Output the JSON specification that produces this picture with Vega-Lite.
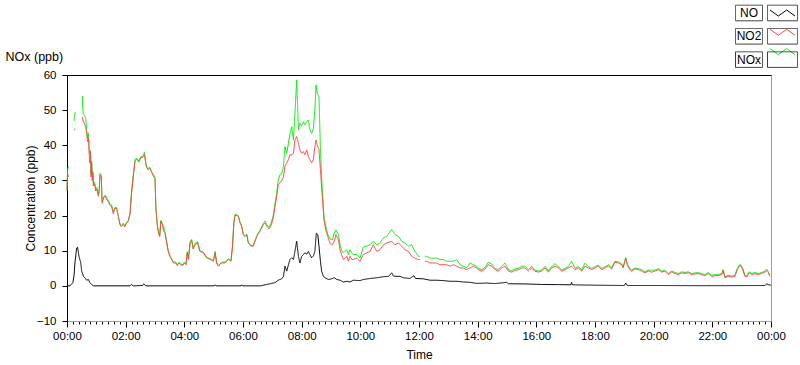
{
  "$schema": "https://vega.github.io/schema/vega-lite/v6.json",
  "width": 704,
  "height": 246,
  "autosize": {"type": "none"},
  "padding": {"left": 67, "top": 75, "right": 29, "bottom": 44},
  "background": "#ffffff",
  "config": {
    "font": "Liberation Sans",
    "view": {"stroke": "#a0a0a0", "strokeWidth": 1},
    "axis": {"grid": false, "labelFont": "Liberation Sans", "labelFontSize": 11.5, "labelColor": "#000000", "titleFont": "Liberation Sans", "titleFontSize": 12, "titleFontWeight": "normal", "titleColor": "#000000", "tickColor": "#000000", "domainColor": "#000000"},
    "axisY": {"labelOverlap": false, "labelBound": false},
    "legend": {"labelFont": "Liberation Sans"}
  },
  "data": {"values": [
    {"t":0,"s":"NOx","v":27.5},{"t":0.02,"s":"NOx","v":33},{"t":0.05,"s":"NOx","v":34},{"t":0.09,"s":"NOx","v":null},
    {"t":0.24,"s":"NOx","v":47},{"t":0.28,"s":"NOx","v":49.5},{"t":0.4,"s":"NOx","v":null},
    {"t":0.52,"s":"NOx","v":54},{"t":0.55,"s":"NOx","v":49},{"t":0.6,"s":"NOx","v":48.5},{"t":0.64,"s":"NOx","v":47.5},{"t":0.67,"s":"NOx","v":44.5},{"t":0.7,"s":"NOx","v":42},{"t":0.73,"s":"NOx","v":43.5},{"t":0.76,"s":"NOx","v":38.5},{"t":0.78,"s":"NOx","v":37.5},{"t":0.8,"s":"NOx","v":38.5},{"t":0.82,"s":"NOx","v":32},{"t":0.84,"s":"NOx","v":35.5},{"t":0.86,"s":"NOx","v":31},{"t":0.88,"s":"NOx","v":32.5},{"t":0.9,"s":"NOx","v":29},{"t":0.94,"s":"NOx","v":29.5},{"t":0.98,"s":"NOx","v":27.5},{"t":1.02,"s":"NOx","v":28},{"t":1.07,"s":"NOx","v":26},{"t":1.1,"s":"NOx","v":27.5},{"t":1.125,"s":"NOx","v":32},{"t":1.17,"s":"NOx","v":31.5},{"t":1.19,"s":"NOx","v":25.5},{"t":1.2,"s":"NOx","v":24},{"t":1.25,"s":"NOx","v":25.3},{"t":1.3,"s":"NOx","v":25.8},{"t":1.36,"s":"NOx","v":25},{"t":1.41,"s":"NOx","v":24.3},{"t":1.46,"s":"NOx","v":23.3},{"t":1.52,"s":"NOx","v":23},{"t":1.58,"s":"NOx","v":21},{"t":1.63,"s":"NOx","v":22.3},{"t":1.69,"s":"NOx","v":22.3},{"t":1.75,"s":"NOx","v":20},{"t":1.8,"s":"NOx","v":17.8},{"t":1.85,"s":"NOx","v":17.2},{"t":1.92,"s":"NOx","v":17.8},{"t":1.97,"s":"NOx","v":17},{"t":2.03,"s":"NOx","v":18},{"t":2.09,"s":"NOx","v":18.6},{"t":2.15,"s":"NOx","v":20.7},{"t":2.2,"s":"NOx","v":26.6},{"t":2.26,"s":"NOx","v":31.5},{"t":2.32,"s":"NOx","v":36},{"t":2.38,"s":"NOx","v":36.3},{"t":2.45,"s":"NOx","v":35.5},{"t":2.52,"s":"NOx","v":36.8},{"t":2.58,"s":"NOx","v":36.9},{"t":2.64,"s":"NOx","v":38},{"t":2.7,"s":"NOx","v":34.3},{"t":2.76,"s":"NOx","v":33.3},{"t":2.82,"s":"NOx","v":33.8},{"t":2.9,"s":"NOx","v":32.3},{"t":2.96,"s":"NOx","v":31.5},{"t":3.0,"s":"NOx","v":31},{"t":3.03,"s":"NOx","v":22.3},{"t":3.08,"s":"NOx","v":17.3},{"t":3.12,"s":"NOx","v":15.3},{"t":3.16,"s":"NOx","v":14.3},{"t":3.2,"s":"NOx","v":18.6},{"t":3.25,"s":"NOx","v":17.8},{"t":3.3,"s":"NOx","v":16.8},{"t":3.34,"s":"NOx","v":15.3},{"t":3.4,"s":"NOx","v":12.5},{"t":3.45,"s":"NOx","v":10},{"t":3.51,"s":"NOx","v":8.6},{"t":3.57,"s":"NOx","v":7.7},{"t":3.63,"s":"NOx","v":6.7},{"t":3.7,"s":"NOx","v":6.8},{"t":3.76,"s":"NOx","v":6},{"t":3.82,"s":"NOx","v":6.7},{"t":3.88,"s":"NOx","v":6.2},{"t":3.95,"s":"NOx","v":6},{"t":4.0,"s":"NOx","v":6.7},{"t":4.06,"s":"NOx","v":6.3},{"t":4.1,"s":"NOx","v":9.7},{"t":4.14,"s":"NOx","v":7.8},{"t":4.2,"s":"NOx","v":12.5},{"t":4.25,"s":"NOx","v":13.2},{"t":4.3,"s":"NOx","v":10.7},{"t":4.36,"s":"NOx","v":12},{"t":4.45,"s":"NOx","v":12.6},{"t":4.53,"s":"NOx","v":10},{"t":4.65,"s":"NOx","v":9.6},{"t":4.76,"s":"NOx","v":8.2},{"t":4.88,"s":"NOx","v":7.7},{"t":4.99,"s":"NOx","v":7.2},{"t":5.05,"s":"NOx","v":9.8},{"t":5.1,"s":"NOx","v":6.7},{"t":5.16,"s":"NOx","v":5.8},{"t":5.27,"s":"NOx","v":6.7},{"t":5.39,"s":"NOx","v":6.8},{"t":5.5,"s":"NOx","v":7.7},{"t":5.59,"s":"NOx","v":7.2},{"t":5.64,"s":"NOx","v":11.2},{"t":5.69,"s":"NOx","v":18.2},{"t":5.73,"s":"NOx","v":20.4},{"t":5.84,"s":"NOx","v":20},{"t":5.9,"s":"NOx","v":18.1},{"t":5.95,"s":"NOx","v":17.2},{"t":6.01,"s":"NOx","v":14.8},{"t":6.07,"s":"NOx","v":14.2},{"t":6.13,"s":"NOx","v":14.7},{"t":6.18,"s":"NOx","v":12.4},{"t":6.27,"s":"NOx","v":11.5},{"t":6.35,"s":"NOx","v":11.5},{"t":6.41,"s":"NOx","v":12.9},{"t":6.5,"s":"NOx","v":14.8},{"t":6.58,"s":"NOx","v":15.8},{"t":6.64,"s":"NOx","v":16.8},{"t":6.69,"s":"NOx","v":17.7},{"t":6.75,"s":"NOx","v":18.5},{"t":6.81,"s":"NOx","v":17.4},{"t":6.89,"s":"NOx","v":16.7},{"t":6.95,"s":"NOx","v":17.6},{"t":7.03,"s":"NOx","v":20},{"t":7.09,"s":"NOx","v":23.3},{"t":7.15,"s":"NOx","v":26.5},{"t":7.2,"s":"NOx","v":30},{"t":7.26,"s":"NOx","v":31.6},{"t":7.32,"s":"NOx","v":32},{"t":7.38,"s":"NOx","v":34},{"t":7.43,"s":"NOx","v":39.6},{"t":7.49,"s":"NOx","v":37.7},{"t":7.55,"s":"NOx","v":40.6},{"t":7.6,"s":"NOx","v":43.4},{"t":7.66,"s":"NOx","v":45.3},{"t":7.72,"s":"NOx","v":41.5},{"t":7.77,"s":"NOx","v":49},{"t":7.83,"s":"NOx","v":58.6},{"t":7.89,"s":"NOx","v":44.4},{"t":7.94,"s":"NOx","v":46.3},{"t":8.0,"s":"NOx","v":45.5},{"t":8.06,"s":"NOx","v":46.7},{"t":8.11,"s":"NOx","v":45.8},{"t":8.17,"s":"NOx","v":46.7},{"t":8.23,"s":"NOx","v":47.2},{"t":8.28,"s":"NOx","v":44.4},{"t":8.34,"s":"NOx","v":43.4},{"t":8.4,"s":"NOx","v":44.8},{"t":8.45,"s":"NOx","v":50},{"t":8.49,"s":"NOx","v":57.1},{"t":8.53,"s":"NOx","v":54.8},{"t":8.59,"s":"NOx","v":53.8},{"t":8.64,"s":"NOx","v":38.7},{"t":8.68,"s":"NOx","v":31},{"t":8.72,"s":"NOx","v":25.4},{"t":8.76,"s":"NOx","v":19.8},{"t":8.82,"s":"NOx","v":17},{"t":8.89,"s":"NOx","v":14.6},{"t":8.97,"s":"NOx","v":13.3},{"t":9.05,"s":"NOx","v":13.1},{"t":9.08,"s":"NOx","v":14.1},{"t":9.11,"s":"NOx","v":15},{"t":9.17,"s":"NOx","v":16},{"t":9.25,"s":"NOx","v":14.6},{"t":9.31,"s":"NOx","v":11.7},{"t":9.36,"s":"NOx","v":10.3},{"t":9.42,"s":"NOx","v":9.4},{"t":9.48,"s":"NOx","v":9.9},{"t":9.54,"s":"NOx","v":10.3},{"t":9.59,"s":"NOx","v":8.9},{"t":9.65,"s":"NOx","v":10.3},{"t":9.71,"s":"NOx","v":9.4},{"t":9.76,"s":"NOx","v":8.9},{"t":9.88,"s":"NOx","v":8.9},{"t":9.99,"s":"NOx","v":7.9},{"t":10.1,"s":"NOx","v":11},{"t":10.22,"s":"NOx","v":11.3},{"t":10.33,"s":"NOx","v":11.7},{"t":10.44,"s":"NOx","v":12.7},{"t":10.56,"s":"NOx","v":11.7},{"t":10.67,"s":"NOx","v":12.2},{"t":10.79,"s":"NOx","v":13.6},{"t":10.9,"s":"NOx","v":14.1},{"t":11.07,"s":"NOx","v":16},{"t":11.18,"s":"NOx","v":14.6},{"t":11.3,"s":"NOx","v":14.1},{"t":11.41,"s":"NOx","v":12.7},{"t":11.52,"s":"NOx","v":12.2},{"t":11.64,"s":"NOx","v":11.3},{"t":11.75,"s":"NOx","v":11.7},{"t":11.86,"s":"NOx","v":9.8},{"t":11.98,"s":"NOx","v":8.4},{"t":12.03,"s":"NOx","v":8.4},{"t":12.12,"s":"NOx","v":null},{"t":12.2,"s":"NOx","v":8.4},{"t":12.26,"s":"NOx","v":8.4},{"t":12.38,"s":"NOx","v":7.9},{"t":12.49,"s":"NOx","v":7.9},{"t":12.6,"s":"NOx","v":7.9},{"t":12.72,"s":"NOx","v":7.5},{"t":12.83,"s":"NOx","v":7.5},{"t":12.94,"s":"NOx","v":7},{"t":13.06,"s":"NOx","v":7},{"t":13.17,"s":"NOx","v":7},{"t":13.29,"s":"NOx","v":7.5},{"t":13.4,"s":"NOx","v":6},{"t":13.51,"s":"NOx","v":5.6},{"t":13.63,"s":"NOx","v":5.1},{"t":13.74,"s":"NOx","v":6.5},{"t":13.85,"s":"NOx","v":6},{"t":13.97,"s":"NOx","v":5.6},{"t":14.02,"s":"NOx","v":5},{"t":14.14,"s":"NOx","v":4.6},{"t":14.25,"s":"NOx","v":5.2},{"t":14.36,"s":"NOx","v":6.7},{"t":14.48,"s":"NOx","v":6.2},{"t":14.59,"s":"NOx","v":5},{"t":14.7,"s":"NOx","v":4.6},{"t":14.82,"s":"NOx","v":5.6},{"t":14.93,"s":"NOx","v":6.5},{"t":15.05,"s":"NOx","v":4.6},{"t":15.16,"s":"NOx","v":4.3},{"t":15.27,"s":"NOx","v":4.8},{"t":15.39,"s":"NOx","v":5},{"t":15.5,"s":"NOx","v":5.6},{"t":15.61,"s":"NOx","v":5.6},{"t":15.73,"s":"NOx","v":4.6},{"t":15.84,"s":"NOx","v":5.6},{"t":15.95,"s":"NOx","v":4.5},{"t":16.07,"s":"NOx","v":4.2},{"t":16.18,"s":"NOx","v":4.5},{"t":16.3,"s":"NOx","v":5.6},{"t":16.41,"s":"NOx","v":4.3},{"t":16.52,"s":"NOx","v":5.5},{"t":16.64,"s":"NOx","v":6.3},{"t":16.75,"s":"NOx","v":5.5},{"t":16.86,"s":"NOx","v":4.5},{"t":16.98,"s":"NOx","v":5},{"t":17.09,"s":"NOx","v":5.5},{"t":17.2,"s":"NOx","v":7},{"t":17.32,"s":"NOx","v":5},{"t":17.43,"s":"NOx","v":5.5},{"t":17.55,"s":"NOx","v":4.6},{"t":17.66,"s":"NOx","v":6.5},{"t":17.77,"s":"NOx","v":5.5},{"t":17.89,"s":"NOx","v":5},{"t":18.0,"s":"NOx","v":5.4},{"t":18.11,"s":"NOx","v":5.9},{"t":18.23,"s":"NOx","v":5},{"t":18.34,"s":"NOx","v":5.4},{"t":18.46,"s":"NOx","v":6},{"t":18.57,"s":"NOx","v":5.2},{"t":18.68,"s":"NOx","v":7},{"t":18.8,"s":"NOx","v":6.8},{"t":18.91,"s":"NOx","v":6.3},{"t":18.96,"s":"NOx","v":5.4},{"t":19.02,"s":"NOx","v":7.3},{"t":19.05,"s":"NOx","v":8.1},{"t":19.1,"s":"NOx","v":6.3},{"t":19.19,"s":"NOx","v":4.9},{"t":19.25,"s":"NOx","v":4.5},{"t":19.36,"s":"NOx","v":5.1},{"t":19.48,"s":"NOx","v":4.9},{"t":19.59,"s":"NOx","v":4.6},{"t":19.7,"s":"NOx","v":4},{"t":19.82,"s":"NOx","v":4.5},{"t":19.93,"s":"NOx","v":4.4},{"t":20.04,"s":"NOx","v":4.5},{"t":20.16,"s":"NOx","v":4.9},{"t":20.27,"s":"NOx","v":4.2},{"t":20.38,"s":"NOx","v":4.5},{"t":20.5,"s":"NOx","v":3.5},{"t":20.61,"s":"NOx","v":4.2},{"t":20.73,"s":"NOx","v":3.8},{"t":20.84,"s":"NOx","v":3.5},{"t":20.95,"s":"NOx","v":4},{"t":21.07,"s":"NOx","v":3.8},{"t":21.18,"s":"NOx","v":4},{"t":21.29,"s":"NOx","v":3.5},{"t":21.41,"s":"NOx","v":3.7},{"t":21.52,"s":"NOx","v":3.8},{"t":21.63,"s":"NOx","v":3.5},{"t":21.75,"s":"NOx","v":3.2},{"t":21.86,"s":"NOx","v":3.8},{"t":21.98,"s":"NOx","v":3},{"t":22.09,"s":"NOx","v":3.2},{"t":22.2,"s":"NOx","v":3.2},{"t":22.32,"s":"NOx","v":3.5},{"t":22.37,"s":"NOx","v":4.6},{"t":22.43,"s":"NOx","v":2.6},{"t":22.54,"s":"NOx","v":3},{"t":22.66,"s":"NOx","v":2.8},{"t":22.77,"s":"NOx","v":3},{"t":22.85,"s":"NOx","v":4.9},{"t":22.92,"s":"NOx","v":5.9},{"t":22.96,"s":"NOx","v":6.1},{"t":23.03,"s":"NOx","v":5.1},{"t":23.11,"s":"NOx","v":3},{"t":23.17,"s":"NOx","v":2.8},{"t":23.26,"s":"NOx","v":4},{"t":23.34,"s":"NOx","v":3.5},{"t":23.45,"s":"NOx","v":3.8},{"t":23.57,"s":"NOx","v":3.5},{"t":23.68,"s":"NOx","v":3.8},{"t":23.79,"s":"NOx","v":4.2},{"t":23.85,"s":"NOx","v":4.8},{"t":23.91,"s":"NOx","v":4},{"t":23.96,"s":"NOx","v":3},

    {"t":0,"s":"NO2","v":27},{"t":0.02,"s":"NO2","v":32},{"t":0.05,"s":"NO2","v":31},{"t":0.09,"s":"NO2","v":null},
    {"t":0.24,"s":"NO2","v":44.3},{"t":0.28,"s":"NO2","v":44.8},{"t":0.4,"s":"NO2","v":null},
    {"t":0.52,"s":"NO2","v":48},{"t":0.55,"s":"NO2","v":47},{"t":0.6,"s":"NO2","v":46},{"t":0.64,"s":"NO2","v":45},{"t":0.67,"s":"NO2","v":43.5},{"t":0.7,"s":"NO2","v":41},{"t":0.73,"s":"NO2","v":42},{"t":0.76,"s":"NO2","v":37},{"t":0.78,"s":"NO2","v":35},{"t":0.8,"s":"NO2","v":38},{"t":0.82,"s":"NO2","v":31},{"t":0.84,"s":"NO2","v":35},{"t":0.86,"s":"NO2","v":30},{"t":0.88,"s":"NO2","v":32},{"t":0.9,"s":"NO2","v":28.5},{"t":0.94,"s":"NO2","v":29},{"t":0.98,"s":"NO2","v":27},{"t":1.02,"s":"NO2","v":27.5},{"t":1.07,"s":"NO2","v":25.5},{"t":1.1,"s":"NO2","v":27},{"t":1.125,"s":"NO2","v":31.5},{"t":1.17,"s":"NO2","v":31},{"t":1.19,"s":"NO2","v":25},{"t":1.2,"s":"NO2","v":23.5},{"t":1.25,"s":"NO2","v":25},{"t":1.3,"s":"NO2","v":25.5},{"t":1.36,"s":"NO2","v":24.5},{"t":1.41,"s":"NO2","v":24},{"t":1.46,"s":"NO2","v":23},{"t":1.52,"s":"NO2","v":22.5},{"t":1.58,"s":"NO2","v":20.5},{"t":1.63,"s":"NO2","v":22},{"t":1.69,"s":"NO2","v":22},{"t":1.75,"s":"NO2","v":19.8},{"t":1.8,"s":"NO2","v":17.5},{"t":1.85,"s":"NO2","v":16.8},{"t":1.92,"s":"NO2","v":17.5},{"t":1.97,"s":"NO2","v":16.8},{"t":2.03,"s":"NO2","v":17.8},{"t":2.09,"s":"NO2","v":18.4},{"t":2.15,"s":"NO2","v":20.5},{"t":2.2,"s":"NO2","v":26.4},{"t":2.26,"s":"NO2","v":31},{"t":2.32,"s":"NO2","v":35.5},{"t":2.38,"s":"NO2","v":36},{"t":2.45,"s":"NO2","v":35.2},{"t":2.52,"s":"NO2","v":36.5},{"t":2.58,"s":"NO2","v":36.5},{"t":2.64,"s":"NO2","v":37.3},{"t":2.7,"s":"NO2","v":34},{"t":2.76,"s":"NO2","v":33},{"t":2.82,"s":"NO2","v":33.5},{"t":2.9,"s":"NO2","v":32},{"t":2.96,"s":"NO2","v":31},{"t":3.0,"s":"NO2","v":30.5},{"t":3.03,"s":"NO2","v":22},{"t":3.08,"s":"NO2","v":17},{"t":3.12,"s":"NO2","v":15},{"t":3.16,"s":"NO2","v":14},{"t":3.2,"s":"NO2","v":18.4},{"t":3.25,"s":"NO2","v":17.5},{"t":3.3,"s":"NO2","v":15.5},{"t":3.34,"s":"NO2","v":15},{"t":3.4,"s":"NO2","v":12.2},{"t":3.45,"s":"NO2","v":9.8},{"t":3.51,"s":"NO2","v":8.4},{"t":3.57,"s":"NO2","v":7.5},{"t":3.63,"s":"NO2","v":6.5},{"t":3.7,"s":"NO2","v":6.5},{"t":3.76,"s":"NO2","v":5.8},{"t":3.82,"s":"NO2","v":6.5},{"t":3.88,"s":"NO2","v":6},{"t":3.95,"s":"NO2","v":5.8},{"t":4.0,"s":"NO2","v":6.5},{"t":4.06,"s":"NO2","v":6},{"t":4.1,"s":"NO2","v":9.5},{"t":4.14,"s":"NO2","v":7.5},{"t":4.2,"s":"NO2","v":12.3},{"t":4.25,"s":"NO2","v":13},{"t":4.3,"s":"NO2","v":10.5},{"t":4.36,"s":"NO2","v":11.5},{"t":4.45,"s":"NO2","v":12.4},{"t":4.53,"s":"NO2","v":9.8},{"t":4.65,"s":"NO2","v":9.4},{"t":4.76,"s":"NO2","v":8},{"t":4.88,"s":"NO2","v":7.5},{"t":4.99,"s":"NO2","v":7},{"t":5.05,"s":"NO2","v":9.4},{"t":5.1,"s":"NO2","v":6.5},{"t":5.16,"s":"NO2","v":5.6},{"t":5.27,"s":"NO2","v":6.5},{"t":5.39,"s":"NO2","v":6.5},{"t":5.5,"s":"NO2","v":7.5},{"t":5.59,"s":"NO2","v":7},{"t":5.64,"s":"NO2","v":11},{"t":5.69,"s":"NO2","v":18},{"t":5.73,"s":"NO2","v":20.2},{"t":5.84,"s":"NO2","v":19.8},{"t":5.9,"s":"NO2","v":17.9},{"t":5.95,"s":"NO2","v":17},{"t":6.01,"s":"NO2","v":14.6},{"t":6.07,"s":"NO2","v":14},{"t":6.13,"s":"NO2","v":14.5},{"t":6.18,"s":"NO2","v":12.2},{"t":6.27,"s":"NO2","v":11.3},{"t":6.35,"s":"NO2","v":11.3},{"t":6.41,"s":"NO2","v":12.7},{"t":6.5,"s":"NO2","v":14.6},{"t":6.58,"s":"NO2","v":15.5},{"t":6.64,"s":"NO2","v":16.5},{"t":6.69,"s":"NO2","v":17.4},{"t":6.75,"s":"NO2","v":17.9},{"t":6.81,"s":"NO2","v":17},{"t":6.89,"s":"NO2","v":16.2},{"t":6.95,"s":"NO2","v":17},{"t":7.03,"s":"NO2","v":19.3},{"t":7.09,"s":"NO2","v":22.6},{"t":7.15,"s":"NO2","v":25.5},{"t":7.2,"s":"NO2","v":28.8},{"t":7.26,"s":"NO2","v":29.3},{"t":7.32,"s":"NO2","v":30},{"t":7.38,"s":"NO2","v":31},{"t":7.43,"s":"NO2","v":34},{"t":7.49,"s":"NO2","v":35},{"t":7.55,"s":"NO2","v":35.9},{"t":7.6,"s":"NO2","v":37.3},{"t":7.66,"s":"NO2","v":37.3},{"t":7.72,"s":"NO2","v":37.7},{"t":7.77,"s":"NO2","v":41.5},{"t":7.83,"s":"NO2","v":42.5},{"t":7.89,"s":"NO2","v":40.6},{"t":7.94,"s":"NO2","v":38.7},{"t":8.0,"s":"NO2","v":37.7},{"t":8.06,"s":"NO2","v":38.2},{"t":8.11,"s":"NO2","v":37.3},{"t":8.17,"s":"NO2","v":38.7},{"t":8.23,"s":"NO2","v":36.8},{"t":8.28,"s":"NO2","v":35.9},{"t":8.34,"s":"NO2","v":35},{"t":8.4,"s":"NO2","v":35.9},{"t":8.45,"s":"NO2","v":39.6},{"t":8.49,"s":"NO2","v":41.5},{"t":8.53,"s":"NO2","v":40.1},{"t":8.59,"s":"NO2","v":38.7},{"t":8.64,"s":"NO2","v":33},{"t":8.68,"s":"NO2","v":27.8},{"t":8.72,"s":"NO2","v":23.6},{"t":8.76,"s":"NO2","v":18.8},{"t":8.82,"s":"NO2","v":16},{"t":8.89,"s":"NO2","v":14.1},{"t":8.97,"s":"NO2","v":12},{"t":9.05,"s":"NO2","v":11.7},{"t":9.08,"s":"NO2","v":12.2},{"t":9.11,"s":"NO2","v":12.7},{"t":9.17,"s":"NO2","v":14.6},{"t":9.25,"s":"NO2","v":13.1},{"t":9.31,"s":"NO2","v":10.3},{"t":9.36,"s":"NO2","v":8.9},{"t":9.42,"s":"NO2","v":7.5},{"t":9.48,"s":"NO2","v":7.9},{"t":9.54,"s":"NO2","v":8.4},{"t":9.59,"s":"NO2","v":7},{"t":9.65,"s":"NO2","v":8.4},{"t":9.71,"s":"NO2","v":7.5},{"t":9.76,"s":"NO2","v":7.5},{"t":9.88,"s":"NO2","v":7.9},{"t":9.99,"s":"NO2","v":7},{"t":10.1,"s":"NO2","v":8.9},{"t":10.22,"s":"NO2","v":9.4},{"t":10.33,"s":"NO2","v":9.8},{"t":10.44,"s":"NO2","v":11.7},{"t":10.56,"s":"NO2","v":9.8},{"t":10.67,"s":"NO2","v":10.3},{"t":10.79,"s":"NO2","v":11.7},{"t":10.9,"s":"NO2","v":12.2},{"t":11.07,"s":"NO2","v":12.7},{"t":11.18,"s":"NO2","v":11.7},{"t":11.3,"s":"NO2","v":12.2},{"t":11.41,"s":"NO2","v":11.3},{"t":11.52,"s":"NO2","v":10.3},{"t":11.64,"s":"NO2","v":9.8},{"t":11.75,"s":"NO2","v":8.4},{"t":11.86,"s":"NO2","v":7.9},{"t":11.98,"s":"NO2","v":7.5},{"t":12.03,"s":"NO2","v":7.5},{"t":12.12,"s":"NO2","v":null},{"t":12.2,"s":"NO2","v":7},{"t":12.26,"s":"NO2","v":7},{"t":12.38,"s":"NO2","v":6.5},{"t":12.49,"s":"NO2","v":6.5},{"t":12.6,"s":"NO2","v":6.5},{"t":12.72,"s":"NO2","v":6},{"t":12.83,"s":"NO2","v":6},{"t":12.94,"s":"NO2","v":6},{"t":13.06,"s":"NO2","v":5.6},{"t":13.17,"s":"NO2","v":6},{"t":13.29,"s":"NO2","v":5.6},{"t":13.4,"s":"NO2","v":5.1},{"t":13.51,"s":"NO2","v":5.1},{"t":13.63,"s":"NO2","v":4.6},{"t":13.74,"s":"NO2","v":5.1},{"t":13.85,"s":"NO2","v":5.6},{"t":13.97,"s":"NO2","v":5.1},{"t":14.02,"s":"NO2","v":4.6},{"t":14.14,"s":"NO2","v":4.2},{"t":14.25,"s":"NO2","v":4.8},{"t":14.36,"s":"NO2","v":6},{"t":14.48,"s":"NO2","v":5.6},{"t":14.59,"s":"NO2","v":4.6},{"t":14.7,"s":"NO2","v":4.2},{"t":14.82,"s":"NO2","v":5.1},{"t":14.93,"s":"NO2","v":5.6},{"t":15.05,"s":"NO2","v":4.2},{"t":15.16,"s":"NO2","v":3.9},{"t":15.27,"s":"NO2","v":4.4},{"t":15.39,"s":"NO2","v":4.6},{"t":15.5,"s":"NO2","v":5.1},{"t":15.61,"s":"NO2","v":5.1},{"t":15.73,"s":"NO2","v":4.2},{"t":15.84,"s":"NO2","v":5.1},{"t":15.95,"s":"NO2","v":4.2},{"t":16.07,"s":"NO2","v":3.9},{"t":16.18,"s":"NO2","v":4.2},{"t":16.3,"s":"NO2","v":5.1},{"t":16.41,"s":"NO2","v":3.9},{"t":16.52,"s":"NO2","v":5.1},{"t":16.64,"s":"NO2","v":5.6},{"t":16.75,"s":"NO2","v":5.1},{"t":16.86,"s":"NO2","v":4.2},{"t":16.98,"s":"NO2","v":4.6},{"t":17.09,"s":"NO2","v":5.1},{"t":17.2,"s":"NO2","v":5.6},{"t":17.32,"s":"NO2","v":4.6},{"t":17.43,"s":"NO2","v":5.1},{"t":17.55,"s":"NO2","v":4.2},{"t":17.66,"s":"NO2","v":5.6},{"t":17.77,"s":"NO2","v":5.1},{"t":17.89,"s":"NO2","v":4.6},{"t":18.0,"s":"NO2","v":5.1},{"t":18.11,"s":"NO2","v":5.6},{"t":18.23,"s":"NO2","v":4.6},{"t":18.34,"s":"NO2","v":5.1},{"t":18.46,"s":"NO2","v":5.6},{"t":18.57,"s":"NO2","v":4.8},{"t":18.68,"s":"NO2","v":6.7},{"t":18.8,"s":"NO2","v":6.5},{"t":18.91,"s":"NO2","v":6},{"t":18.96,"s":"NO2","v":5.1},{"t":19.02,"s":"NO2","v":7},{"t":19.05,"s":"NO2","v":7.7},{"t":19.1,"s":"NO2","v":6},{"t":19.19,"s":"NO2","v":4.6},{"t":19.25,"s":"NO2","v":4.2},{"t":19.36,"s":"NO2","v":4.8},{"t":19.48,"s":"NO2","v":4.6},{"t":19.59,"s":"NO2","v":4.2},{"t":19.7,"s":"NO2","v":3.7},{"t":19.82,"s":"NO2","v":4.2},{"t":19.93,"s":"NO2","v":3.9},{"t":20.04,"s":"NO2","v":4.2},{"t":20.16,"s":"NO2","v":4.6},{"t":20.27,"s":"NO2","v":3.9},{"t":20.38,"s":"NO2","v":4.2},{"t":20.5,"s":"NO2","v":3.2},{"t":20.61,"s":"NO2","v":3.9},{"t":20.73,"s":"NO2","v":3.5},{"t":20.84,"s":"NO2","v":3.2},{"t":20.95,"s":"NO2","v":3.7},{"t":21.07,"s":"NO2","v":3.5},{"t":21.18,"s":"NO2","v":3.7},{"t":21.29,"s":"NO2","v":3.2},{"t":21.41,"s":"NO2","v":3.4},{"t":21.52,"s":"NO2","v":3.5},{"t":21.63,"s":"NO2","v":3.2},{"t":21.75,"s":"NO2","v":2.9},{"t":21.86,"s":"NO2","v":3.5},{"t":21.98,"s":"NO2","v":2.7},{"t":22.09,"s":"NO2","v":2.9},{"t":22.2,"s":"NO2","v":2.9},{"t":22.32,"s":"NO2","v":3.2},{"t":22.37,"s":"NO2","v":4.4},{"t":22.43,"s":"NO2","v":2.3},{"t":22.54,"s":"NO2","v":2.7},{"t":22.66,"s":"NO2","v":2.5},{"t":22.77,"s":"NO2","v":2.7},{"t":22.85,"s":"NO2","v":4.6},{"t":22.92,"s":"NO2","v":5.6},{"t":22.96,"s":"NO2","v":5.8},{"t":23.03,"s":"NO2","v":4.8},{"t":23.11,"s":"NO2","v":2.7},{"t":23.17,"s":"NO2","v":2.5},{"t":23.26,"s":"NO2","v":3.7},{"t":23.34,"s":"NO2","v":3.2},{"t":23.45,"s":"NO2","v":3.5},{"t":23.57,"s":"NO2","v":3.2},{"t":23.68,"s":"NO2","v":3.5},{"t":23.79,"s":"NO2","v":3.9},{"t":23.85,"s":"NO2","v":4.2},{"t":23.91,"s":"NO2","v":3.7},{"t":23.96,"s":"NO2","v":2.7},

    {"t":0,"s":"NO","v":0},{"t":0.1,"s":"NO","v":0},{"t":0.2,"s":"NO","v":0.9},{"t":0.24,"s":"NO","v":3},{"t":0.27,"s":"NO","v":6.5},{"t":0.33,"s":"NO","v":10.8},{"t":0.36,"s":"NO","v":11},{"t":0.41,"s":"NO","v":8.4},{"t":0.47,"s":"NO","v":6.5},{"t":0.5,"s":"NO","v":4.2},{"t":0.56,"s":"NO","v":2.7},{"t":0.61,"s":"NO","v":2.3},{"t":0.67,"s":"NO","v":1.6},{"t":0.73,"s":"NO","v":1.8},{"t":0.78,"s":"NO","v":0.9},{"t":0.84,"s":"NO","v":0.4},{"t":0.9,"s":"NO","v":0},{"t":2.15,"s":"NO","v":0},{"t":2.2,"s":"NO","v":0.4},{"t":2.25,"s":"NO","v":0},{"t":2.58,"s":"NO","v":0.1},{"t":2.62,"s":"NO","v":0.6},{"t":2.68,"s":"NO","v":0},{"t":5.02,"s":"NO","v":0},{"t":5.05,"s":"NO","v":0.3},{"t":5.08,"s":"NO","v":0},{"t":5.93,"s":"NO","v":0},{"t":5.95,"s":"NO","v":0.3},{"t":5.98,"s":"NO","v":0},{"t":6.6,"s":"NO","v":0},{"t":6.81,"s":"NO","v":0.4},{"t":6.98,"s":"NO","v":0.7},{"t":7.09,"s":"NO","v":0.9},{"t":7.2,"s":"NO","v":1.6},{"t":7.32,"s":"NO","v":2},{"t":7.38,"s":"NO","v":2.7},{"t":7.43,"s":"NO","v":5.6},{"t":7.49,"s":"NO","v":4.2},{"t":7.55,"s":"NO","v":6},{"t":7.6,"s":"NO","v":7.5},{"t":7.66,"s":"NO","v":8},{"t":7.72,"s":"NO","v":7.5},{"t":7.77,"s":"NO","v":9.8},{"t":7.83,"s":"NO","v":12.7},{"t":7.89,"s":"NO","v":8.4},{"t":7.94,"s":"NO","v":6.5},{"t":8.0,"s":"NO","v":8.4},{"t":8.06,"s":"NO","v":8.9},{"t":8.11,"s":"NO","v":9.4},{"t":8.17,"s":"NO","v":9},{"t":8.23,"s":"NO","v":9.8},{"t":8.28,"s":"NO","v":8.9},{"t":8.34,"s":"NO","v":8},{"t":8.4,"s":"NO","v":8.5},{"t":8.45,"s":"NO","v":9.8},{"t":8.5,"s":"NO","v":15},{"t":8.55,"s":"NO","v":14.6},{"t":8.59,"s":"NO","v":11.3},{"t":8.64,"s":"NO","v":7},{"t":8.68,"s":"NO","v":4.2},{"t":8.74,"s":"NO","v":2.7},{"t":8.8,"s":"NO","v":2.3},{"t":8.91,"s":"NO","v":1.8},{"t":9.02,"s":"NO","v":2},{"t":9.11,"s":"NO","v":2.3},{"t":9.2,"s":"NO","v":1.8},{"t":9.31,"s":"NO","v":1.6},{"t":9.42,"s":"NO","v":1.1},{"t":9.54,"s":"NO","v":1.3},{"t":9.65,"s":"NO","v":1.1},{"t":9.76,"s":"NO","v":1.6},{"t":9.99,"s":"NO","v":1.5},{"t":10.1,"s":"NO","v":1.8},{"t":10.33,"s":"NO","v":2.1},{"t":10.56,"s":"NO","v":2.3},{"t":10.79,"s":"NO","v":2.6},{"t":10.96,"s":"NO","v":2.7},{"t":11.07,"s":"NO","v":3.7},{"t":11.13,"s":"NO","v":2.8},{"t":11.24,"s":"NO","v":2.7},{"t":11.35,"s":"NO","v":2.7},{"t":11.47,"s":"NO","v":2.3},{"t":11.69,"s":"NO","v":2.1},{"t":11.83,"s":"NO","v":2.9},{"t":11.88,"s":"NO","v":2.1},{"t":12.15,"s":"NO","v":2},{"t":12.38,"s":"NO","v":1.6},{"t":12.6,"s":"NO","v":1.6},{"t":12.83,"s":"NO","v":1.5},{"t":13.06,"s":"NO","v":1.3},{"t":13.29,"s":"NO","v":1.3},{"t":13.51,"s":"NO","v":1.1},{"t":13.74,"s":"NO","v":1.0},{"t":13.97,"s":"NO","v":0.7},{"t":14.3,"s":"NO","v":0.8},{"t":14.6,"s":"NO","v":0.65},{"t":14.99,"s":"NO","v":1.0},{"t":15.05,"s":"NO","v":0.6},{"t":15.61,"s":"NO","v":0.55},{"t":16.18,"s":"NO","v":0.4},{"t":16.75,"s":"NO","v":0.35},{"t":17.18,"s":"NO","v":0.3},{"t":17.2,"s":"NO","v":1.0},{"t":17.23,"s":"NO","v":0.3},{"t":17.89,"s":"NO","v":0.2},{"t":19.0,"s":"NO","v":0.1},{"t":19.05,"s":"NO","v":0.8},{"t":19.1,"s":"NO","v":0.1},{"t":20.2,"s":"NO","v":0.1},{"t":21.5,"s":"NO","v":0.05},{"t":22.2,"s":"NO","v":0.05},{"t":23.8,"s":"NO","v":0.1},{"t":23.85,"s":"NO","v":0.6},{"t":23.92,"s":"NO","v":0.3},{"t":24,"s":"NO","v":0.2}
  ]},
  "resolve": {"axis": {"x": "independent"}, "legend": {"color": "independent", "strokeDash": "independent"}},
  "layer": [
    {
      "transform": [{"filter": "datum.s === 'NOx'"}],
      "mark": {"type": "line", "strokeWidth": 1},
      "encoding": {
        "x": {"field": "t", "type": "quantitative", "scale": {"domain": [0, 24], "nice": false, "zero": false},
          "axis": {"title": "Time", "tickCount": 120, "labelOverlap": false, "labelFlush": false, "labelPadding": 3,
            "labelExpr": "datum.value % 2 === 0 ? (((datum.value % 24) < 10 ? '0' : '') + (datum.value % 24) + ':00') : ''",
            "tickSize": {"condition": {"test": "datum.value % 2 === 0", "value": 6}, "value": 3},
            "domainColor": "#a0a0a0", "titleY": 37, "titleBaseline": "alphabetic"}},
        "y": {"field": "v", "type": "quantitative", "scale": {"domain": [-10, 60], "nice": false, "zero": false},
          "axis": {"title": "Concentration (ppb)", "values": [-10, 0, 10, 20, 30, 40, 50, 60], "labelOverlap": false, "tickSize": 5, "labelPadding": 6, "titleX": -30, "titleY": 123, "titleBaseline": "bottom"}},
        "color": {"field": "s", "type": "nominal", "scale": {"domain": ["NO", "NO2", "NOx"], "range": ["#000000", "#ff4040", "#00ee00"]},
          "legend": {"orient": "none", "legendX": 705, "legendY": -72.5, "title": null, "direction": "vertical", "padding": 0,
            "symbolType": "M-1.25,-0.3L-0.42,0.3L0.42,-0.3L1.25,0.3", "symbolSize": 400, "symbolStrokeWidth": 1,
            "labelExpr": "''", "labelOffset": -44, "labelAlign": "center", "labelFontSize": 12, "rowPadding": 2.3}},
        "strokeDash": {"field": "s", "type": "nominal", "scale": {"range": [[1, 0], [1, 0], [1, 0]]}, "legend": null}
      }
    },
    {
      "transform": [{"filter": "datum.s === 'NO2'"}],
      "mark": {"type": "line", "strokeWidth": 1},
      "encoding": {
        "x": {"field": "t", "type": "quantitative",
          "axis": {"orient": "top", "title": "NOx (ppb)", "labels": false, "ticks": false, "domainColor": "#000000",
            "titleX": -62, "titleY": -15, "titleAlign": "left", "titleAnchor": "start", "titleBaseline": "alphabetic", "titleFontSize": 12.5, "titleAngle": 0}},
        "y": {"field": "v", "type": "quantitative",
          "axis": {"title": "Concentration (ppb)", "values": [-10, 0, 10, 20, 30, 40, 50, 60], "labelOverlap": false, "tickSize": 5, "labelPadding": 6, "titleX": -30, "titleY": 123, "titleBaseline": "bottom"}},
        "color": {"field": "s", "type": "nominal", "legend": null},
        "strokeDash": {"field": "s", "type": "nominal",
          "legend": {"orient": "none", "legendX": 705, "legendY": -72.5, "title": null, "direction": "vertical", "padding": 0,
            "symbolType": "M-4.7,-0.78H-2.0V0.78H-4.7Z M-1.5,-0.78H1.5V0.78H-1.5Z", "symbolSize": 400, "symbolStrokeWidth": 1,
            "symbolStrokeColor": "#3a3a3a", "symbolFillColor": "transparent",
            "labelOffset": -44, "labelAlign": "center", "labelFontSize": 12, "labelColor": "#000000", "rowPadding": 2.3}}
      }
    },
    {
      "transform": [{"filter": "datum.s === 'NO'"}],
      "mark": {"type": "line", "strokeWidth": 1},
      "encoding": {
        "x": {"field": "t", "type": "quantitative", "axis": null},
        "y": {"field": "v", "type": "quantitative",
          "axis": {"title": "Concentration (ppb)", "values": [-10, 0, 10, 20, 30, 40, 50, 60], "labelOverlap": false, "tickSize": 5, "labelPadding": 6, "titleX": -30, "titleY": 123, "titleBaseline": "bottom"}},
        "color": {"field": "s", "type": "nominal", "legend": null},
        "strokeDash": {"field": "s", "type": "nominal", "legend": null}
      }
    }
  ]
}
